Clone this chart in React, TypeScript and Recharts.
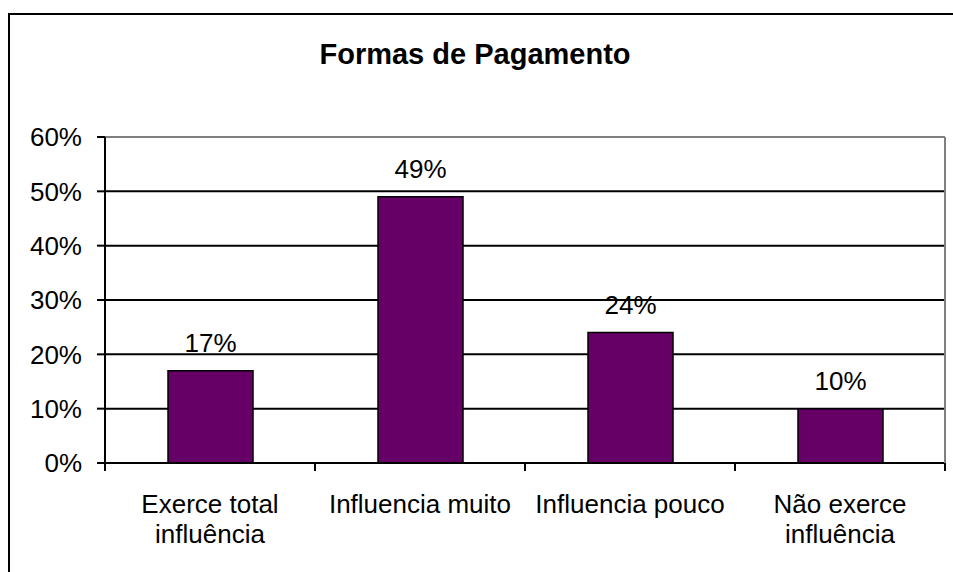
import { BarChart, Bar, XAxis, YAxis, CartesianGrid, LabelList, ReferenceLine } from "recharts";

const categories = ["Exerce total influência", "Influencia muito", "Influencia pouco", "Não exerce influência"];
const tickLabels = [["Exerce total", "influência"], ["Influencia muito"], ["Influencia pouco"], ["Não exerce", "influência"]];
const values = [0.17, 0.49, 0.24, 0.1];
const yTicks = [0, 0.1, 0.2, 0.3, 0.4, 0.5, 0.6];

const FONT = "'Liberation Sans', Arial, sans-serif";

const data = categories.map((name, i) => ({ name, value: values[i] }));

const pct = (v: number) => `${Math.round(v * 100)}%`;

// tick marks sit between categories, labels under the bars
function XTick(props: any) {
  const { x, y, payload, index } = props;
  const half = payload.offset ?? 105;
  const lines = tickLabels[index] ?? [payload.value];
  return (
    <g>
      <line x1={x - half} x2={x - half} y1={y} y2={y + 8} stroke="#000" strokeWidth={2} />
      {index === categories.length - 1 && (
        <line x1={x + half} x2={x + half} y1={y} y2={y + 8} stroke="#000" strokeWidth={2} />
      )}
      <text x={x} y={y + 50} textAnchor="middle" fontSize={26} fontFamily={FONT} fill="#000">
        {lines.map((l: string, i: number) => (
          <tspan key={i} x={x} dy={i === 0 ? 0 : 30}>
            {l}
          </tspan>
        ))}
      </text>
    </g>
  );
}

export default function App() {
  return (
    <div style={{ position: "absolute", left: 0, top: 0, width: 953, height: 572, overflow: "hidden", background: "#fff" }}>
      <div
        style={{
          position: "absolute",
          left: 8,
          top: 13,
          width: 1000,
          height: 700,
          border: "2px solid #000",
        }}
      />
      <div
        style={{
          position: "absolute",
          left: 0,
          width: 950,
          top: 40,
          lineHeight: "29px",
          textAlign: "center",
          fontFamily: FONT,
          fontWeight: "bold",
          fontSize: 29,
          color: "#000",
        }}
      >
        Formas de Pagamento
      </div>
      <div style={{ position: "absolute", left: 0, top: 0 }}>
        <BarChart width={953} height={572} data={data} margin={{ top: 137, right: 0, bottom: 9, left: 45 }} barSize={85}>
          <CartesianGrid vertical={false} stroke="#000" strokeWidth={2} />
          <XAxis
            dataKey="name"
            height={100}
            tickLine={false}
            tickSize={0}
            tickMargin={0}
            interval={0}
            axisLine={{ stroke: "#000", strokeWidth: 2 }}
            tick={<XTick />}
          />
          <YAxis
            width={60}
            domain={[0, 0.6]}
            ticks={yTicks}
            tickFormatter={pct}
            tickSize={8}
            tickMargin={15}
            axisLine={{ stroke: "#000", strokeWidth: 2 }}
            tickLine={{ stroke: "#000", strokeWidth: 2 }}
            tick={{ fill: "#000", fontSize: 26, fontFamily: FONT }}
          />
          <YAxis yAxisId="r" orientation="right" width={8} tick={false} tickLine={false} axisLine={{ stroke: "#808080", strokeWidth: 2 }} />
          <ReferenceLine y={0.6} stroke="#808080" strokeWidth={2} />
          <Bar dataKey="value" fill="#660066" stroke="#000" strokeWidth={1.5} isAnimationActive={false}>
            <LabelList dataKey="value" position="top" offset={19} formatter={pct} fill="#000" fontSize={26} fontFamily={FONT} />
          </Bar>
        </BarChart>
      </div>
    </div>
  );
}
